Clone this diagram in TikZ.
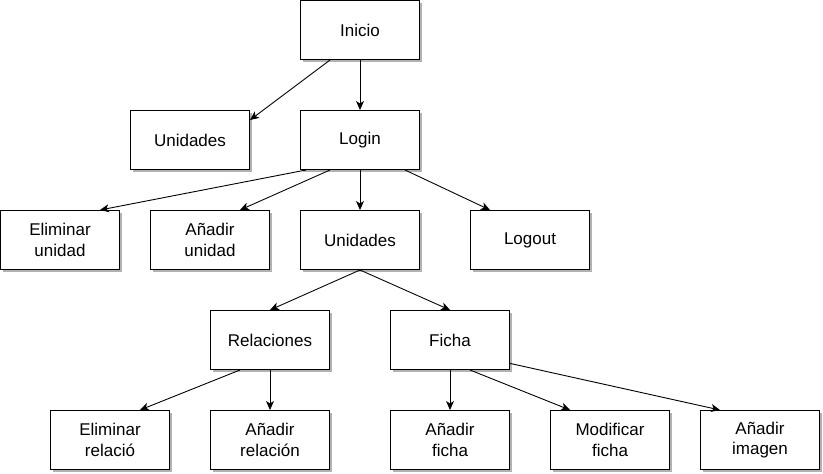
\documentclass[tikz,border=0pt]{standalone}
\usepackage{fontspec}
\setmainfont{Liberation Sans}
\usetikzlibrary{arrows.meta,calc,shadows}
\begin{document}
\begin{tikzpicture}[x=1pt,y=-1pt,
  box/.style={draw=black,line width=1pt,fill=white,minimum width=119pt,minimum height=59pt,
    inner sep=0pt,align=center,font=\fontsize{17}{20.5}\selectfont,
    drop shadow={shadow xshift=2.5pt,shadow yshift=-2.5pt,fill=black!30,opacity=1}},
  link/.style={line width=0.9pt,-{Stealth[length=9pt,width=8pt,inset=2.5pt]}}]
\useasboundingbox (0,0) rectangle (823,474);
\node[box] (inicio) at (360,30) {Inicio};
\node[box] (uni1) at (190,140) {Unidades};
\node[box] (login) at (360,140) {Login};
\node[box] (elimu) at (60,240) {Eliminar\\unidad};
\node[box] (addu) at (210,240) {Añadir\\unidad};
\node[box] (uni2) at (360,240) {Unidades};
\node[box] (logout) at (530,240) {Logout};
\node[box] (rel) at (270,340) {Relaciones};
\node[box] (ficha) at (450,340) {Ficha};
\node[box] (elimr) at (110,440) {Eliminar\\relació};
\node[box] (addr) at (270,440) {Añadir\\relación};
\node[box] (addf) at (450,440) {Añadir\\ficha};
\node[box] (modf) at (610,440) {Modificar\\ficha};
\node[box] (addi) at (760,440) {Añadir\\imagen};
\draw[link] ($(inicio.south west)!0.25!(inicio.south east)$) -- ($(uni1.north east)!1/6!(uni1.south east)$);
\draw[link] (inicio.south) -- (login.north);
\draw[link] ($(login.south west)!0.05!(login.south east)$) -- ($(elimu.north west)!5/6!(elimu.north east)$);
\draw[link] ($(login.south west)!0.25!(login.south east)$) -- ($(addu.north west)!0.75!(addu.north east)$);
\draw[link] (login.south) -- (uni2.north);
\draw[link] ($(login.south west)!0.875!(login.south east)$) -- ($(logout.north west)!1/6!(logout.north east)$);
\draw[link] (uni2.south) -- (rel.north);
\draw[link] (uni2.south) -- (ficha.north);
\draw[link] ($(rel.south west)!0.25!(rel.south east)$) -- ($(elimr.north west)!0.75!(elimr.north east)$);
\draw[link] (rel.south) -- (addr.north);
\draw[link] (ficha.south) -- (addf.north);
\draw[link] ($(ficha.south west)!2/3!(ficha.south east)$) -- ($(modf.north west)!1/6!(modf.north east)$);
\draw[link] ($(ficha.north east)!0.89!(ficha.south east)$) -- ($(addi.north west)!1/6!(addi.north east)$);
\end{tikzpicture}
\end{document}
